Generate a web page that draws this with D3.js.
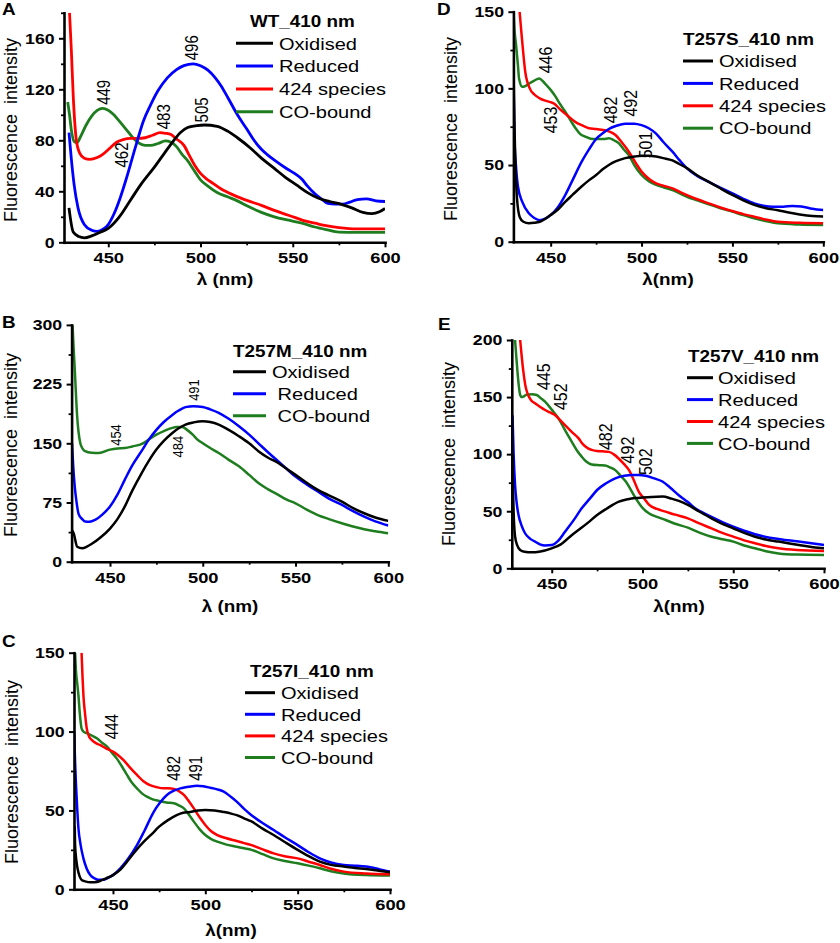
<!DOCTYPE html>
<html>
<head>
<meta charset="utf-8">
<title>Fluorescence spectra 410 nm</title>
<script src="https://cdnjs.cloudflare.com/ajax/libs/d3/7.8.5/d3.min.js"></script>
<style>
  body { margin: 0; background: #fff; }
  text { font-family: "Liberation Sans", Arial, sans-serif; fill: #000; }
</style>
</head>
<body>
<script>

// ---- data: [wavelength nm, intensity] ----

// A: WT
var wtOx = [[428.7,27],[431,8],[434,4.5],[437,3.5],[441,5],[445,7.5],[450,11],[456,20],[462,33],[468,46],[475,59],[480,69],[484,77],[489,86],[493,90],[498,91.5],[502,92],[509,91],[515,87],[520,82],[527,74],[533,66],[540,58],[546,51],[552,45],[558,39],[564,34.5],[570,32],[576,30],[582,27],[588,23.5],[593,22.5],[597,24],[600,26.5]];
var wtRed = [[428.7,86],[430,65],[431.5,45],[433.6,27],[437,14],[441,9.5],[444,8.5],[447,10],[450,14],[453,22],[456.5,35],[460,51],[463,66],[466,81],[469,95],[472.7,107],[477,119],[482,129],[487,135.5],[491,138.6],[496,140],[500,138.5],[504,135],[508,129],[511,123],[515,113],[520,100],[525,89],[529,80],[533,73],[536,69],[541,63.5],[547,57.5],[551,54],[555,49.5],[558,44],[562,38],[566,33.5],[569,30.5],[573,30],[577,30],[581,31.5],[585,33.5],[590,34],[595,32.5],[600,32]];
var wt424 = [[429,180],[430,150],[431,115],[432.7,80],[434.5,70],[437,66],[440,65],[444,66.5],[447,69],[451,74],[454.5,78.5],[458,80.5],[462,81.5],[466,81.5],[470,82],[474,84],[478,86],[481,85.5],[484,84.5],[487,81],[491,76],[494,68],[497,60],[500,54],[503,50],[507,46],[511,42],[518,37],[525.5,32.7],[533,29],[540,25],[545,22.5],[551,19.6],[556,17],[562,15],[568,13],[575,11.5],[585,10.5],[600,10.5]];
var wtCO = [[428,110],[429,100],[430,88],[431.5,79],[433,78],[435,83],[438,92],[441,99],[444,103.5],[447,105],[450,103.5],[453,100],[456,95],[460,88],[464,81],[467,77.5],[470,76],[473,76],[477,77.5],[481,79.5],[484,78.5],[487,75],[490,69],[493,64],[496,57.5],[500,49],[504,44],[509,39],[515,35.5],[520,32.5],[526,28],[533,23.5],[540,20],[547,17.5],[555,15],[562,12],[568,10],[575,8],[585,7.8],[600,7.8]];

// D: T257S
var tsOx = [[429.6,110],[430,80],[430.5,55],[431.5,28],[433,16],[435,13],[438,12],[441,12.3],[444,13],[450,17.4],[454,21],[458,26],[462,30.5],[467,36],[471,40],[475,43.5],[479,47.5],[482,50],[486,52.5],[491,54.5],[496,55.5],[500,56],[504,56],[508,55.5],[512,54.5],[517,53],[521,50.5],[525,48],[531,43],[537,39],[543,35],[550,30.5],[556,27],[562,24],[568,22],[575,20.5],[581,19],[587,17.8],[594,16.8],[600,16.5]];
var tsRed = [[429.6,105],[430,70],[431,48],[432,36],[434.4,26],[438,18.5],[441,15.5],[444,14],[447,15],[450,17.4],[454,22.5],[458,30.4],[462,40],[467,52],[471,60],[475,67],[479,71],[482,73.5],[486,75.5],[491,77],[496,77],[500,76],[504,74],[508,70.5],[512,65],[517,58.7],[521,53],[525,47.8],[531,42.5],[537,39],[543,35.5],[550,31.5],[556,28],[562,25],[567,23.5],[572,22.8],[578,22.8],[583,23.3],[588,23],[594,21.5],[600,20.6]];
var ts424 = [[432.9,150],[434,135],[434.7,126],[436,111],[438.5,100],[441,96],[444,93.5],[447,92],[450,91],[452,90],[454.6,87],[459,82.5],[463.7,78],[467,76],[471,74],[475,73.5],[478,73],[482,72],[485.7,69.6],[489,65],[493,58.7],[497,51],[500,45.7],[504,41],[508,38],[512,36.5],[517,34.8],[521,32.5],[525,30.4],[531,27.5],[537,25],[543,22.5],[550,20],[556,18],[562,16.3],[568,14.5],[575,13],[587,12.3],[600,12]];
var tsCO = [[429.6,150],[430,140],[431,128],[432,115],[432.6,106.5],[434.4,101],[436,101.5],[438,103],[441,105],[443.6,106.5],[447,103],[450,99],[452.7,94.6],[455,90],[458,84.8],[461,79],[463.7,74],[466,70.5],[469,68.5],[472,67.2],[475,67],[479,67],[482,67.4],[485,66],[487.7,64],[490,60.5],[493,56.5],[496,50],[500,43.5],[504,39.5],[508,37],[512,35.5],[517,33.7],[521,31.5],[525,29.3],[531,26.8],[537,24.3],[543,22],[550,19.6],[556,17.3],[562,15.2],[568,13.5],[575,12],[587,11.2],[600,10.9]];

// B: T257M
var tmOx = [[429.5,40],[430.4,36],[432.3,19],[435,17],[437.5,19],[440.4,23],[445,31],[450,42],[454,54],[458,70],[462,90],[467,112],[471,128],[475,142],[479,153],[483.6,163],[487,169],[490.7,173.7],[495,176.5],[500,178],[504,177],[508.6,173.7],[514,167],[519.5,159],[525,150],[530,140],[535,132],[540.7,125],[545,118],[550,110],[556,100],[562,91],[568,84],[575,76],[581,68],[587,61.4],[593,56],[600,51.7]];
var tmRed = [[429.5,150],[430.2,120],[431,95],[432,75],[433,61],[435,54],[436.6,51],[439,50.5],[442,53],[446,60],[450,70],[454,85],[458,104],[462,122],[467.5,142],[471,155],[475,167],[479,177],[483.6,186],[487,191.5],[490.7,195.8],[495,197],[500,196],[504,193],[508.6,188.6],[514,181],[519.5,171.6],[525,161],[530,150],[535,139],[540.7,127],[545,118],[550,108],[556,98],[562,89],[568,80],[575,72],[581,64],[587,57],[593,51],[600,45.8]];
var tmCO = [[429.8,300],[430.4,270],[431,243.6],[432.3,184],[433,165],[434,150],[435.3,143],[436.6,140],[440,138],[444,137.7],[450,142],[454,143.5],[458,144],[462,146],[467.5,149.6],[471,155],[475,161],[479,165.5],[483.6,169.5],[486,170.5],[489,170.8],[491.5,167],[494.6,161],[497,155],[500,150],[504,144],[508.6,137.7],[514,129],[519.5,120.8],[525,110],[530,99.6],[535,92],[540.7,84.7],[545,79],[550,74],[556,66],[562,59],[568,54],[575,48.7],[581,44.5],[587,41],[593,38.5],[600,36]];

// E: T257V
var tvOx = [[428.3,100],[428.7,70],[429,50],[429.8,28],[431,20],[432.6,16],[435,14.5],[439,14],[443,14.5],[450,17.5],[455,21],[461,29],[466,35],[470,40],[475,46.7],[480,52],[487,58.4],[492,60.5],[496,61.5],[500,62],[505,62.5],[511,62.8],[516,61],[520,59],[525,55.5],[531,50],[538,43.8],[544,39],[550,35],[556,31],[562,27.7],[568,25.2],[575,23.4],[581,21.8],[588,20],[594,18.5],[600,17.5]];
var tvRed = [[428.4,134],[429,100],[429.8,73],[430.7,57],[431.7,46.7],[433.5,37],[435.3,30.7],[438,26],[440.8,23.4],[443.5,21],[446.3,20],[450,20.4],[453.5,24],[457.3,32],[462,42],[466.5,52.5],[471,61],[475,68.6],[480,74.5],[485,78.8],[490,81],[494.5,81.8],[498,81.8],[501.8,81],[506,79],[511,76],[515,71],[520,64],[525,58],[529,52.5],[533,49],[538,45],[544,40.5],[550,36.5],[556,33],[562,29.8],[568,27.5],[575,25.7],[580,24.5],[586,23.4],[593,22],[600,20.4]];
var tv424 = [[432.6,200],[433.5,185],[434.4,172],[435.5,160],[437,151.8],[438.5,147.5],[440.8,144.5],[443.5,141.5],[446.3,138.7],[449,136.5],[451.8,134.3],[454.5,130],[457.3,125.5],[461,119.5],[464.7,114],[467,109],[470,105],[472.5,103.5],[475,102.8],[478,102.5],[481.5,102],[484,100],[487,96],[490,91],[492.6,86],[495,78],[498,67],[501,61],[503.7,55.5],[508,52],[512.8,49.6],[518,47],[525,43.8],[531,39.5],[538,35],[544,31],[550,27.7],[556,24.5],[562,21.9],[568,19.5],[575,17.5],[585,16],[600,15.2]];
var tvCO = [[429.8,200],[430.5,185],[431.3,169],[432,158],[432.6,151.8],[433.5,150],[434.4,150.4],[436,152],[439,152.4],[441.7,151.8],[444,149],[446.3,146],[450,139],[453.7,131.4],[457,122],[461,111],[464,103],[466.5,97.8],[469,93.5],[472,91],[476,90.3],[479.4,90],[482,88.5],[485,86],[488,81],[490.8,76],[493.5,69],[496.3,61.3],[500,53],[503.7,48],[508,45],[512.8,42.3],[518,39],[525,35.6],[531,31.5],[538,27.7],[544,25.5],[550,23.4],[556,20],[562,17.5],[568,15],[575,13],[585,12],[600,11.7]];

// C: T257I
var tiOx = [[429.3,40],[429.5,28],[430.2,18],[430.8,13.3],[432,8],[433,6],[435,5],[437.7,4.4],[440,4.5],[443,5.3],[446,6.8],[450,9],[454,12.5],[457.6,17.5],[462,24],[466.6,30],[471,35],[475,39.7],[480,44],[484.5,47],[488,48.5],[491.7,49],[496,50],[500,50.3],[505,50],[510,49],[514,48],[517,47],[521,45],[525,43],[531,38.5],[537,34.4],[543,30],[550,25],[556,21],[562,17.5],[568,15.5],[575,14.4],[581,13.5],[587,12.9],[594,11.8],[600,10.8]];
var tiRed = [[429,100],[429.5,80],[430,66],[430.6,52],[431.3,38.7],[432.5,28],[434,19.6],[435.8,13],[437.7,9],[440,7],[442,6],[444.5,6],[446.8,7],[450,9],[454,13.3],[458,19],[463,28],[467,37],[472,49],[475.5,55],[479.2,59.8],[483,62.5],[486.5,64],[491,65],[495.5,65.7],[499,65.3],[502.7,64.4],[506,63.5],[510,61.9],[514,58.5],[517,55.6],[521,51],[525,47],[531,42],[537,37.6],[543,33],[550,28],[556,23.5],[562,19.6],[568,17],[575,15.4],[581,15],[587,14.4],[594,12.8],[600,11.2]];
var ti424 = [[433,150],[433.5,135],[434,123],[435,110],[435.8,102],[437,97],[438.6,94.6],[441,92.5],[443,91.5],[446,89.5],[450,87.3],[452.8,85],[455.6,82],[459,77.5],[463,72.5],[466.5,68.5],[470,66],[473.5,64.8],[477.4,64],[480,64],[483,63.6],[486,62],[488.4,59.8],[491,56],[493.8,51.3],[497,45.5],[500,40.8],[503,37],[506.5,34.4],[511,32.5],[517,30.6],[521,29.3],[525,28],[531,25.3],[537,22.8],[543,21],[550,19.6],[556,17.5],[562,15.4],[568,13],[575,11.2],[587,10],[600,9.5]];
var tiCO = [[429.5,150],[430,138],[430.7,130],[431.3,123],[432,112],[433,102],[434,100],[435.8,99],[438.5,97.5],[441.3,95.7],[444,93],[446.8,90.4],[449.5,86.5],[452,83],[454.8,78],[457.6,72.5],[460.3,67.5],[463,64],[466,60.5],[468.4,58.7],[471.5,57],[475,56],[479,55],[483,54.5],[486,53],[488.4,51.3],[491,47.5],[493.8,42.9],[497,38],[500,34.4],[503,32],[506.5,30.2],[511,28.5],[517,27],[521,26],[525,25],[531,22.3],[537,19.6],[543,18],[550,16.5],[556,15],[562,13.3],[568,11.5],[575,10],[587,9],[600,8.7]];

// tick values
var xTicks = [450, 500, 550, 600];
var xMinor = [475, 525, 575];
var yTicksA = [0, 40, 80, 120, 160], yMinorA = [20, 60, 100, 140, 180];
var yTicksD = [0, 50, 100, 150], yMinorD = [25, 75, 125];
var yTicksB = [0, 75, 150, 225, 300], yMinorB = [37.5, 112.5, 187.5, 262.5];
var yTicksE = [0, 50, 100, 150, 200], yMinorE = [25, 75, 125, 175];
var yTicksC = [0, 50, 100, 150], yMinorC = [25, 75, 125];

// legend names / colours
var names4 = ["Oxidised", "Reduced", "424 species", "CO-bound"];
var names3 = ["Oxidised", " Reduced", " CO-bound"];
var colors4 = ["#000000", "#0000ff", "#ff0000", "#1e7d1e"];
var colors3 = ["#000000", "#0000ff", "#1e7d1e"];

// peak annotations [label, wavelength, intensity at label centre]
var peaksA = [["449", 447.3, 117.6], ["496", 495.2, 152.6], ["483", 479.8, 98.5], ["505", 500.6, 103.8], ["462", 457.3, 68.5]];
var peaksD = [["446", 446.9, 118.5], ["453", 449.6, 79.4], ["482", 482.7, 85.9], ["492", 493.7, 90.3], ["501", 502.0, 63.1]];
var peaksB = [["491", 494.9, 217.5], ["454", 452.7, 160.5], ["484", 486.5, 145.7]];
var peaksE = [["445", 445.4, 167.9], ["452", 454.6, 150.3], ["482", 479.4, 115.3], ["492", 491.3, 103.6], ["502", 501.4, 93.4]];
var peaksC = [["444", 449.3, 103.1], ["482", 482.6, 76.7], ["491", 494.9, 76.7]];

// ---- layout ----
var SX = 1.18; // the original figure is stretched horizontally

var panels = [
  { letter: "A", lx: 2, ly: 15, title: "WT_410 nm", tx: 250, ty: 27,
    series: [wtOx, wtRed, wt424, wtCO], names: names4, colors: colors4,
    x0: 426, yMax: 180, yTicks: yTicksA, yMinor: yMinorA,
    l: 64, r: 385, t: 12.8, b: 242.3, lw: 2.8,
    leg: { x1: 236, x2: 273, tx: 279, y0: 43.3, dy: 22.8 },
    xlab: "λ (nm)", xlx: 225, xly: 285, ylx: 16.5, yly: 130,
    peaks: peaksA, pfs: 15 },
  { letter: "D", lx: 437, ly: 15, title: "T257S_410 nm", tx: 683, ty: 45,
    series: [tsOx, tsRed, ts424, tsCO], names: names4, colors: colors4,
    x0: 429.5, yMax: 150, yTicks: yTicksD, yMinor: yMinorD,
    l: 513.4, r: 823.3, t: 11.7, b: 241.7, lw: 2.5,
    leg: { x1: 683, x2: 713, tx: 719, y0: 61, dy: 22.4 },
    xlab: "λ(nm)", xlx: 668, xly: 285, ylx: 457, yly: 129,
    peaks: peaksD, pfs: 16 },
  { letter: "B", lx: 2, ly: 328, title: "T257M_410 nm", tx: 233, ty: 356.7,
    series: [tmOx, tmRed, tmCO], names: names3, colors: colors3,
    x0: 429.3, yMax: 300, yTicks: yTicksB, yMinor: yMinorB,
    l: 71.6, r: 388.3, t: 324.9, b: 561.7, lw: 2.5,
    leg: { x1: 233, x2: 266, tx: 272, y0: 371.7, dy: 22 },
    xlab: "λ (nm)", xlx: 230, xly: 612, ylx: 16.5, yly: 445,
    peaks: peaksB, pfs: 13 },
  { letter: "E", lx: 438, ly: 330, title: "T257V_410 nm", tx: 688, ty: 361.7,
    series: [tvOx, tvRed, tv424, tvCO], names: names4, colors: colors4,
    x0: 428, yMax: 200, yTicks: yTicksE, yMinor: yMinorE,
    l: 511.8, r: 824, t: 340, b: 568.3, lw: 2.5,
    leg: { x1: 687, x2: 713, tx: 718, y0: 377.7, dy: 21.9 },
    xlab: "λ(nm)", xlx: 679, xly: 612, ylx: 455, yly: 454,
    peaks: peaksE, pfs: 16 },
  { letter: "C", lx: 2, ly: 647, title: "T257I_410 nm", tx: 250, ty: 677.3,
    series: [tiOx, tiRed, ti424, tiCO], names: names4, colors: colors4,
    x0: 428.9, yMax: 150, yTicks: yTicksC, yMinor: yMinorC,
    l: 74, r: 390, t: 652.7, b: 889.3, lw: 2.5,
    leg: { x1: 245, x2: 275, tx: 281, y0: 692.7, dy: 21.6 },
    xlab: "λ(nm)", xlx: 231, xly: 936, ylx: 17.5, yly: 772,
    peaks: peaksC, pfs: 15 }
];

var svg = d3.select("body").append("svg")
  .attr("width", 840)
  .attr("height", 943);

svg.append("rect").attr("width", 840).attr("height", 943).attr("fill", "#fff");

// stretched text helper
function stext(g, x, y, str, size, weight, anchor, rot) {
  var tr = "translate(" + x + "," + y + ") scale(" + SX + ",1)" + (rot ? " rotate(-90)" : "");
  return g.append("text")
    .attr("transform", tr)
    .attr("font-size", size)
    .attr("font-weight", weight || "normal")
    .attr("text-anchor", anchor || "start")
    .style("white-space", "pre")
    .text(str);
}

panels.forEach(function(p, i) {
  var g = svg.append("g");

  var x = d3.scaleLinear().domain([p.x0, 600]).range([p.l, p.r]);
  var y = d3.scaleLinear().domain([0, p.yMax]).range([p.b, p.t]);

  var clipId = "clip" + i;
  svg.append("clipPath").attr("id", clipId)
    .append("rect")
    .attr("x", p.l).attr("y", p.t)
    .attr("width", p.r - p.l).attr("height", p.b - p.t);

  var line = d3.line()
    .x(function(d) { return x(d[0]); })
    .y(function(d) { return y(d[1]); })
    .curve(d3.curveMonotoneX);

  // curves; reversed so black is drawn last, on top
  var order = p.series.map(function(s, k) { return k; }).reverse();
  g.append("g").attr("clip-path", "url(#" + clipId + ")")
    .selectAll("path")
    .data(order)
    .enter()
    .append("path")
    .attr("d", function(k) { return line(p.series[k]); })
    .attr("fill", "none")
    .attr("stroke", function(k) { return p.colors[k]; })
    .attr("stroke-width", p.lw)
    .attr("stroke-linejoin", "round");

  // minor ticks
  g.append("g")
    .attr("transform", "translate(0," + p.b + ")")
    .call(d3.axisBottom(x).tickValues(xMinor).tickSize(3).tickFormat(""))
    .call(function(a) { a.select(".domain").remove(); a.selectAll("line").attr("stroke-width", 1.8); });
  g.append("g")
    .attr("transform", "translate(" + p.l + ",0)")
    .call(d3.axisLeft(y).tickValues(p.yMinor).tickSize(3).tickFormat(""))
    .call(function(a) { a.select(".domain").remove(); a.selectAll("line").attr("stroke-width", 1.8); });

  // major axes
  var gx = g.append("g")
    .attr("transform", "translate(0," + p.b + ")")
    .call(d3.axisBottom(x).tickValues(xTicks).tickSize(5).tickSizeOuter(0).tickPadding(5));
  var gy = g.append("g")
    .attr("transform", "translate(" + p.l + ",0)")
    .call(d3.axisLeft(y).tickValues(p.yTicks).tickSize(5).tickSizeOuter(0).tickPadding(3));

  [gx, gy].forEach(function(a) {
    a.select(".domain").attr("stroke-width", 2.6).attr("stroke-linecap", "square");
    a.selectAll(".tick line").attr("stroke-width", 2);
    a.selectAll("text")
      .attr("font-size", 15)
      .attr("font-weight", "bold")
      .attr("font-family", "'Liberation Sans', Arial, sans-serif")
      .attr("fill", "#000")
      .attr("transform", "scale(" + SX + ",1)");
  });
  gx.selectAll("text").attr("font-size", 15.5);

  // axis titles
  stext(g, p.xlx, p.xly, p.xlab, 16, "bold", "middle");
  g.append("text")
    .attr("transform", "translate(" + p.ylx + "," + p.yly + ") rotate(-90)")
    .attr("font-size", 18)
    .attr("text-anchor", "middle")
    .style("white-space", "pre")
    .text("Fluorescence  intensity");

  // panel letter and title
  stext(g, p.lx, p.ly, p.letter, 16, "bold", "start");
  stext(g, p.tx, p.ty, p.title, 16, "bold", "start");

  // legend
  p.names.forEach(function(n, k) {
    var yy = p.leg.y0 + k * p.leg.dy;
    g.append("line")
      .attr("x1", p.leg.x1).attr("x2", p.leg.x2)
      .attr("y1", yy).attr("y2", yy)
      .attr("stroke", p.colors[k])
      .attr("stroke-width", 3);
    stext(g, p.leg.tx, yy + 6.2, n, 17, "normal", "start");
  });

  // rotated peak labels, centred on (wavelength, intensity)
  p.peaks.forEach(function(pk) {
    stext(g, x(pk[1]), y(pk[2]), pk[0], p.pfs, "normal", "middle", true)
      .attr("dy", "0.36em");
  });
});
</script>
</body>
</html>
